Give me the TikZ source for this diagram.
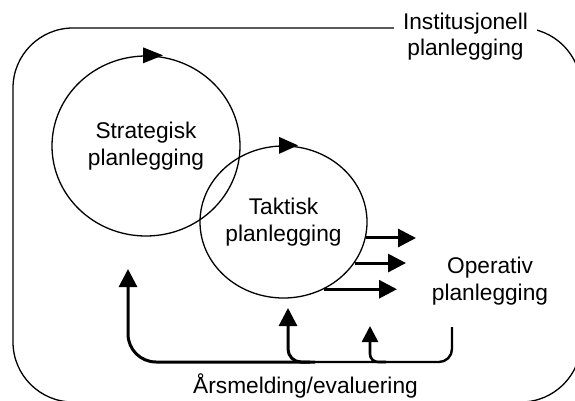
\documentclass[tikz,border=0pt]{standalone}
\usepackage{fontspec}
\setmainfont{Liberation Sans}
\usetikzlibrary{shapes.geometric,arrows.meta,calc}

\begin{document}
\begin{tikzpicture}[x=1pt,y=-1pt,
  every node/.style={font=\fontsize{22.7}{26.5}\selectfont, align=center, inner sep=0pt},
  cycle/.style={ellipse, draw, line width=1.3pt, inner sep=0pt},
  frame/.style={line width=1.3pt, rounded corners=60pt},
  flow/.style={line width=3pt, -{Triangle[length=18pt,width=18pt]}},
  smallflow/.style={line width=2.6pt, -{Triangle[length=16pt,width=16pt]}},
  ret/.style={line width=2.4pt},
]
\useasboundingbox (0,0) rectangle (575,401);
\clip (0,0) rectangle (575,401);

% institutional frame with its label set into the top edge
\draw[frame] (13,28) rectangle (581,402);
\node[fill=white, inner xsep=9pt, inner ysep=2pt] (inst) at (465.5,36.7) {Institusjonell\\planlegging};

% planning cycles
\node[cycle, minimum width=188pt, minimum height=180pt] (strat) at (146,146) {Strategisk\\planlegging};
\node[cycle, minimum width=167pt, minimum height=152pt] (takt) at (283.5,222) {Taktisk\\planlegging};

% direction marks on the cycles
\fill (strat.north) ++(-3,-8) -- ++(20,8) -- ++(-20,8) -- cycle;
\fill (takt.north) ++(-4.5,-8.5) -- ++(19,8.5) -- ++(-19,8.5) -- cycle;

% operative level
\node (op) at (490,281.2) {Operativ\\planlegging};

\coordinate (o1) at (416,238);
\coordinate (o2) at (406,263);
\coordinate (o3) at (397,289);
\draw[flow] (takt.-11) -- (takt.-11 -| o1);
\draw[flow] (takt.-30.3) -- (takt.-30.3 -| o2);
\draw[flow] (takt.-59.5) -- (takt.-59.5 -| o3);

% feedback from the annual report
\coordinate (opbase) at (452,327);
\coordinate (mid) at (315,362);
\coordinate (tipS) at (128,269);
\coordinate (tipT) at (288,308);
\coordinate (tipO) at (370,326);
\draw[ret, rounded corners=13pt] (opbase) |- (mid);
\draw[flow, rounded corners=28pt] (mid) -| (tipS);
\draw[flow, rounded corners=13pt] ($(mid)+(-5,0)$) -| (tipT);
\draw[smallflow, rounded corners=8pt] (386,362) -| (tipO);

\node[anchor=base] (aars) at (305.5,393) {Årsmelding/evaluering};
\end{tikzpicture}
\end{document}
